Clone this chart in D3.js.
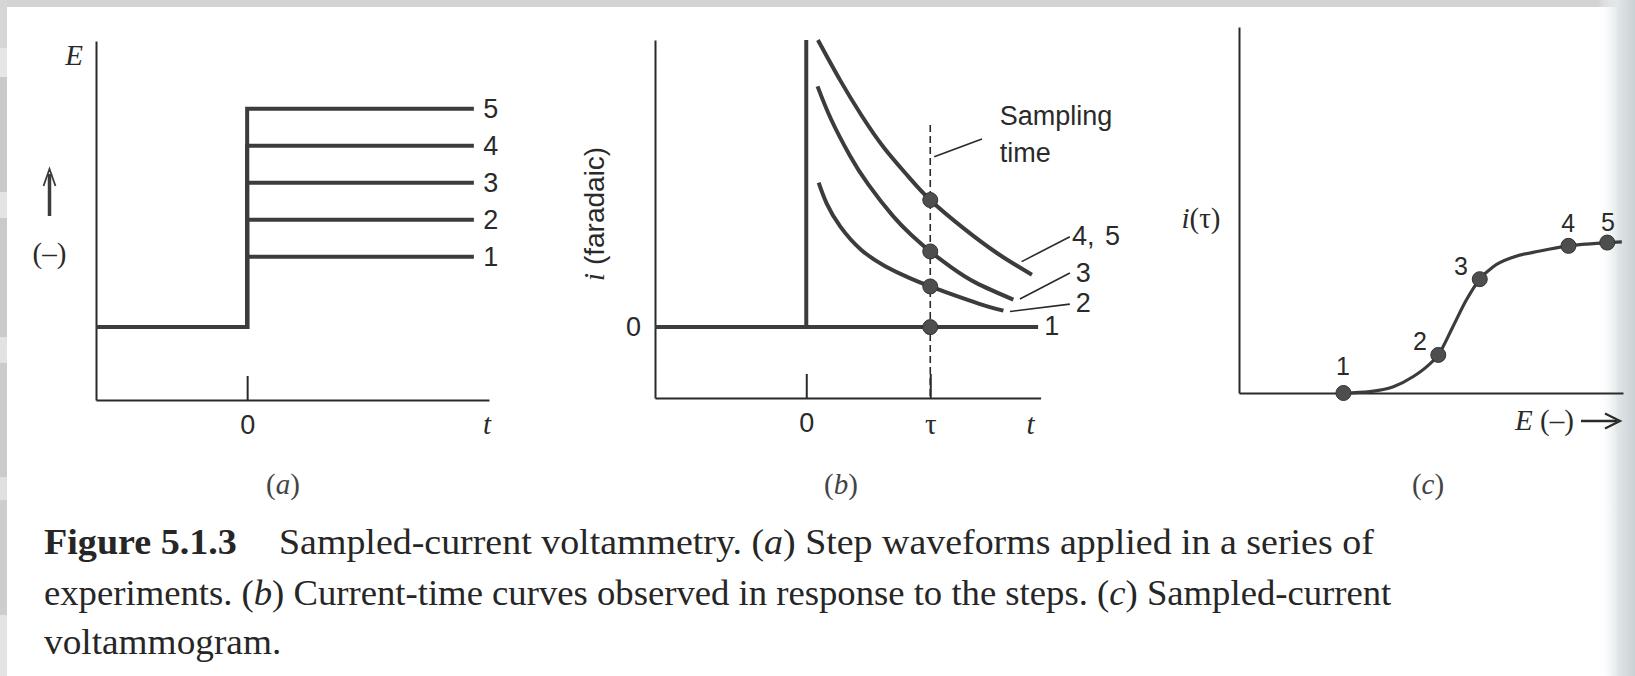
<!DOCTYPE html>
<html>
<head>
<meta charset="utf-8">
<script src="https://cdn.jsdelivr.net/npm/d3@7"></script>
<style>
  html, body { margin: 0; padding: 0; background: #fff; }
  svg { display: block; }
</style>
</head>
<body>
<svg id="fig" width="1635" height="676"></svg>
<script>
// ---------------- data ----------------
// (a) step waveforms: potential held at the base level, stepped at t = 0
const stepNames  = ["1", "2", "3", "4", "5"];
const stepLevels = [1.9, 2.9, 3.9, 4.9, 5.9];
const baseLevel  = 0;
const stepEnd    = 1.5;

// (b) current transients, t in units of the sampling time τ
const transient45 = [[0.094, 9.6], [0.274, 8.25], [0.45, 7.05], [0.63, 5.98], [0.82, 5.05],
                     [1.0, 4.25], [1.27, 3.3], [1.54, 2.47], [1.82, 1.75]];
const transient3  = [[0.091, 8.05], [0.2, 6.95], [0.35, 5.75], [0.5, 4.77], [0.7, 3.71],
                     [0.85, 3.07], [1.0, 2.53], [1.17, 2.0], [1.37, 1.48], [1.67, 0.92]];
const transient2  = [[0.1, 4.83], [0.164, 4.14], [0.275, 3.36], [0.444, 2.58], [0.64, 2.03],
                     [0.835, 1.64], [1.0, 1.36], [1.17, 1.1], [1.395, 0.78], [1.59, 0.55]];
const transient1End = 1.87;
const tau = 1;
const sampledAtTau = [0, 1.36, 2.53, 4.25];          // curves 1, 2, 3, 4/5 at t = τ
const transientLabels = ["4, 5", "3", "2", "1"];
const labelAnchorT  = [2.143, 2.235, 2.235, 1.98];
const labelAnchorI  = [2.75, 1.52, 0.52, -0.26];
const leaderFrom    = [[1.737, 2.19], [1.723, 0.94], [1.643, 0.52]];
const leaderTo      = [[2.126, 3.02], [2.126, 1.81], [2.126, 0.77]];

// (c) sampled-current voltammogram
const sampledE = [2.72, 5.19, 6.27, 8.58, 9.59];
const sampledI = [0, 1.04, 3.11, 4.02, 4.11];
const voltammogram = [[2.72, 0], [3.41, 0.04], [4.02, 0.17], [4.54, 0.45], [4.89, 0.72],
                      [5.19, 1.04], [5.57, 1.81], [5.92, 2.54], [6.27, 3.11], [6.62, 3.45],
                      [7.14, 3.71], [7.84, 3.88], [8.58, 4.02], [9.06, 4.07], [9.59, 4.11], [9.97, 4.13]];
const pointNames = ["1", "2", "3", "4", "5"];
const pointLabelE = [2.71, 4.71, 5.78, 8.57, 9.61];
const pointLabelI = [0.49, 1.17, 3.22, 4.40, 4.43];

// ---------------- styles ----------------
const INK = "#2a2a2a";
const LINE = "#3c3c3c";
const SANS = "'Liberation Sans', Arial, Helvetica, sans-serif";
const SERIF = "'Liberation Serif', 'Times New Roman', serif";
const SANS_SIZE = 27;

const svg = d3.select("#fig");

// paper edges of the scanned page
const paper = svg.append("g");
paper.append("rect").attr("x", 0).attr("y", 0).attr("width", 1635).attr("height", 676).attr("fill", "#fff");
paper.append("rect").attr("x", 0).attr("y", 0).attr("width", 1635).attr("height", 7).attr("fill", "#d3d3d3");
const edgeBands = [[0, 48, "#d6d6d6"], [48, 77, "#e6e6e6"], [77, 192, "#c9c9c9"], [192, 218, "#e4e4e4"],
                   [218, 337, "#cacaca"], [337, 363, "#e2e2e2"], [363, 477, "#cbcbcb"], [477, 500, "#e0e0e0"],
                   [500, 615, "#cdcdcd"], [615, 676, "#e3e3e3"]];
paper.selectAll("rect.band").data(edgeBands).join("rect")
  .attr("class", "band").attr("x", 0).attr("width", 7)
  .attr("y", d => d[0]).attr("height", d => d[1] - d[0]).attr("fill", d => d[2]);
const grad = svg.append("defs").append("linearGradient").attr("id", "edgeR")
  .attr("x1", 0).attr("x2", 1).attr("y1", 0).attr("y2", 0);
grad.append("stop").attr("offset", 0).attr("stop-color", "#ffffff").attr("stop-opacity", 0);
grad.append("stop").attr("offset", 0.55).attr("stop-color", "#dfe6e8");
grad.append("stop").attr("offset", 1).attr("stop-color", "#c8d1d4");
paper.append("rect").attr("x", 1598).attr("y", 0).attr("width", 37).attr("height", 676).attr("fill", "url(#edgeR)");

function styleAxis(g) {
  g.select(".domain").attr("stroke", INK).attr("stroke-width", 2);
  g.selectAll(".tick line").attr("stroke", INK).attr("stroke-width", 2);
  g.selectAll(".tick text").attr("fill", INK).attr("font-family", SANS).attr("font-size", SANS_SIZE);
}

// ================= panel (a) =================
const xA = d3.scaleLinear().domain([-1, 1.6]).range([96, 489]);
const yA = d3.scaleLinear().domain([-1.97, 7.73]).range([400, 41]);
const gA = svg.append("g");

gA.append("g").attr("transform", `translate(0,${yA.range()[0]})`)
  .call(d3.axisBottom(xA).tickValues([0]).tickSize(-24).tickSizeOuter(0).tickPadding(15).tickFormat(d3.format("d")))
  .call(styleAxis);
gA.append("g").attr("transform", `translate(${xA.range()[0]},0)`)
  .call(d3.axisLeft(yA).tickValues([]).tickSizeOuter(0))
  .call(styleAxis);

const stepLine = d3.line().x(d => xA(d[0])).y(d => yA(d[1]));
gA.selectAll("path.step").data(stepLevels).join("path")
  .attr("class", "step")
  .attr("d", L => stepLine([[xA.domain()[0], baseLevel], [0, baseLevel], [0, L], [stepEnd, L]]))
  .attr("fill", "none").attr("stroke", LINE).attr("stroke-width", 4).attr("stroke-linejoin", "miter");
gA.selectAll("text.lvl").data(stepLevels).join("text")
  .attr("class", "lvl")
  .attr("x", xA(stepEnd) + 17).attr("y", L => yA(L) + 9.5)
  .attr("text-anchor", "middle").attr("font-family", SANS).attr("font-size", SANS_SIZE).attr("fill", INK)
  .text((L, i) => stepNames[i]);

gA.append("text").attr("x", 74).attr("y", 65).attr("text-anchor", "middle")
  .attr("font-family", SERIF).attr("font-style", "italic").attr("font-size", 29).attr("fill", INK).text("E");
gA.append("text").attr("x", xA.range()[1] - 2).attr("y", 434).attr("text-anchor", "middle")
  .attr("font-family", SERIF).attr("font-style", "italic").attr("font-size", 29).attr("fill", INK).text("t");
// "more negative" arrow
gA.append("line").attr("x1", 49.5).attr("x2", 49.5).attr("y1", 216).attr("y2", 174)
  .attr("stroke", LINE).attr("stroke-width", 3.5);
gA.append("path").attr("d", "M43.5,186 L49.5,169 L55.5,186")
  .attr("fill", "none").attr("stroke", LINE).attr("stroke-width", 1.8);
gA.append("text").attr("x", 49.5).attr("y", 263).attr("text-anchor", "middle")
  .attr("font-family", SERIF).attr("font-size", 29).attr("fill", INK).text("(–)");
const capA = gA.append("text").attr("x", 283).attr("y", 494).attr("text-anchor", "middle")
  .attr("font-family", SERIF).attr("font-size", 29).attr("fill", "#444");
capA.append("tspan").text("(");
capA.append("tspan").attr("font-style", "italic").text("a");
capA.append("tspan").text(")");

// ================= panel (b) =================
const xB = d3.scaleLinear().domain([-1.22, 1.89]).range([655, 1040.6]);
const yB = d3.scaleLinear().domain([-2.37, 9.6]).range([398, 40]);
const gB = svg.append("g");

const axB = gB.append("g").attr("transform", `translate(0,${yB.range()[0]})`)
  .call(d3.axisBottom(xB).tickValues([0, tau]).tickSize(-24).tickSizeOuter(0).tickPadding(15)
        .tickFormat(d => d === 0 ? "0" : "τ"))
  .call(styleAxis);
axB.selectAll(".tick text").filter(d => d === tau).attr("font-family", SERIF).attr("font-size", 29);
gB.append("g").attr("transform", `translate(${xB.range()[0]},0)`)
  .call(d3.axisLeft(yB).tickValues([0]).tickSize(0).tickSizeOuter(0).tickPadding(14).tickFormat(d3.format("d")))
  .call(styleAxis);

// sampling time marker
gB.append("line").attr("x1", xB(tau)).attr("x2", xB(tau)).attr("y1", yB(6.76)).attr("y2", yB.range()[0])
  .attr("stroke", INK).attr("stroke-width", 1.6).attr("stroke-dasharray", "7,4");

// double-layer charging spike and the zero-current response (curve 1)
gB.append("line").attr("x1", xB(0)).attr("x2", xB(0)).attr("y1", yB(0)).attr("y2", yB(yB.domain()[1]))
  .attr("stroke", LINE).attr("stroke-width", 4);
gB.append("line").attr("x1", xB(xB.domain()[0])).attr("x2", xB(transient1End)).attr("y1", yB(0)).attr("y2", yB(0))
  .attr("stroke", LINE).attr("stroke-width", 4);

const tLine = d3.line().x(d => xB(d[0])).y(d => yB(d[1])).curve(d3.curveNatural);
gB.selectAll("path.tr").data([transient45, transient3, transient2]).join("path")
  .attr("class", "tr").attr("d", tLine)
  .attr("fill", "none").attr("stroke", LINE).attr("stroke-width", 4).attr("stroke-linecap", "butt");

gB.selectAll("circle.smp").data(sampledAtTau).join("circle")
  .attr("class", "smp").attr("cx", xB(tau)).attr("cy", d => yB(d)).attr("r", 7.5)
  .attr("fill", "#4e4e4e").attr("stroke", "#333").attr("stroke-width", 1);

gB.selectAll("line.leader").data(leaderFrom).join("line")
  .attr("class", "leader")
  .attr("x1", d => xB(d[0])).attr("y1", d => yB(d[1]))
  .attr("x2", (d, i) => xB(leaderTo[i][0])).attr("y2", (d, i) => yB(leaderTo[i][1]))
  .attr("stroke", INK).attr("stroke-width", 1.6);
gB.selectAll("text.tl").data(transientLabels).join("text")
  .attr("class", "tl")
  .attr("x", (d, i) => xB(labelAnchorT[i])).attr("y", (d, i) => yB(labelAnchorI[i]))
  .attr("text-anchor", (d, i) => i === 0 ? "start" : "middle")
  .attr("font-family", SANS).attr("font-size", SANS_SIZE).attr("fill", INK)
  .attr("word-spacing", (d, i) => i === 0 ? 3 : 0)
  .text(d => d);

// "Sampling time" note
gB.append("line").attr("x1", xB(1.417)).attr("y1", yB(6.29)).attr("x2", xB(1.032)).attr("y2", yB(5.70))
  .attr("stroke", INK).attr("stroke-width", 1.6);
gB.append("text").attr("x", xB(1.56)).attr("y", yB(6.76))
  .attr("font-family", SANS).attr("font-size", SANS_SIZE).attr("fill", INK).text("Sampling");
gB.append("text").attr("x", xB(1.56)).attr("y", yB(5.53))
  .attr("font-family", SANS).attr("font-size", SANS_SIZE).attr("fill", INK).text("time");

gB.append("text").attr("x", xB.range()[1] - 10).attr("y", 434).attr("text-anchor", "middle")
  .attr("font-family", SERIF).attr("font-style", "italic").attr("font-size", 29).attr("fill", INK).text("t");

const yTitleB = gB.append("text").attr("transform", "translate(604,214) rotate(-90)")
  .attr("text-anchor", "middle").attr("font-family", SANS).attr("font-size", 28).attr("fill", INK);
yTitleB.append("tspan").attr("font-family", SERIF).attr("font-style", "italic").attr("font-size", 30).text("i");
yTitleB.append("tspan").text(" (faradaic)");

const capB = gB.append("text").attr("x", 841).attr("y", 494).attr("text-anchor", "middle")
  .attr("font-family", SERIF).attr("font-size", 29).attr("fill", "#444");
capB.append("tspan").text("(");
capB.append("tspan").attr("font-style", "italic").text("b");
capB.append("tspan").text(")");

// ================= panel (c) =================
const xC = d3.scaleLinear().domain([0, 10]).range([1239, 1623]);
const yC = d3.scaleLinear().domain([0, 10]).range([393, 27]);
const gC = svg.append("g");

gC.append("g").attr("transform", `translate(0,${yC.range()[0]})`)
  .call(d3.axisBottom(xC).tickValues([]).tickSizeOuter(0))
  .call(styleAxis);
gC.append("g").attr("transform", `translate(${xC.range()[0]},0)`)
  .call(d3.axisLeft(yC).tickValues([]).tickSizeOuter(0))
  .call(styleAxis);

gC.append("path").datum(voltammogram)
  .attr("d", d3.line().x(d => xC(d[0])).y(d => yC(d[1])).curve(d3.curveMonotoneX))
  .attr("fill", "none").attr("stroke", LINE).attr("stroke-width", 3.2);
gC.selectAll("circle.pt").data(sampledE).join("circle")
  .attr("class", "pt").attr("cx", d => xC(d)).attr("cy", (d, i) => yC(sampledI[i])).attr("r", 7.5)
  .attr("fill", "#4e4e4e").attr("stroke", "#333").attr("stroke-width", 1);
gC.selectAll("text.pl").data(pointNames).join("text")
  .attr("class", "pl")
  .attr("x", (d, i) => xC(pointLabelE[i])).attr("y", (d, i) => yC(pointLabelI[i]))
  .attr("text-anchor", "middle").attr("font-family", SANS).attr("font-size", 25).attr("fill", INK).text(d => d);

const yTitleC = gC.append("text").attr("x", 1201).attr("y", 228).attr("text-anchor", "middle")
  .attr("font-family", SERIF).attr("font-size", 29).attr("fill", INK);
yTitleC.append("tspan").attr("font-style", "italic").text("i");
yTitleC.append("tspan").text("(τ)");

const xTitleC = gC.append("text").attr("x", 1515).attr("y", 430)
  .attr("font-family", SERIF).attr("font-size", 29).attr("fill", INK);
xTitleC.append("tspan").attr("font-style", "italic").text("E");
xTitleC.append("tspan").text(" (–)");
gC.append("line").attr("x1", 1581).attr("x2", 1617).attr("y1", 421).attr("y2", 421)
  .attr("stroke", INK).attr("stroke-width", 2.6);
gC.append("path").attr("d", "M1605,413.5 L1620,421 L1605,428.5")
  .attr("fill", "none").attr("stroke", INK).attr("stroke-width", 2.2);

const capC = gC.append("text").attr("x", 1428).attr("y", 494).attr("text-anchor", "middle")
  .attr("font-family", SERIF).attr("font-size", 29).attr("fill", "#444");
capC.append("tspan").text("(");
capC.append("tspan").attr("font-style", "italic").text("c");
capC.append("tspan").text(")");

// ================= caption =================
const capG = svg.append("g").attr("fill", "#262626").attr("font-family", SERIF).attr("font-size", 36);

function fitLine(x0, x1, baseline, parts, weight) {
  const g = capG.append("g");
  const t = g.append("text").attr("x", 0).attr("y", 0).attr("font-weight", weight || "normal");
  parts.forEach(p => {
    const s = t.append("tspan").text(p[0]);
    if (p[1]) s.attr("font-style", "italic");
  });
  const w = t.node().getComputedTextLength();
  const k = (x1 - x0) / w;
  g.attr("transform", `translate(${x0},${baseline}) scale(${k},1)`);
  return k;
}
fitLine(44, 237, 554, [["Figure 5.1.3"]], "bold");
const k1 = fitLine(279, 1374, 554, [["Sampled-current voltammetry. ("], ["a", true], [") Step waveforms applied in a series of"]]);
const k2 = fitLine(44, 1392, 605, [["experiments. ("], ["b", true], [") Current-time curves observed in response to the steps. ("], ["c", true], [") Sampled-current"]]);
(function () {
  const g = capG.append("g").attr("transform", `translate(44,654) scale(${(k1 + k2) / 2},1)`);
  g.append("text").attr("x", 0).attr("y", 0).text("voltammogram.");
})();
</script>
</body>
</html>
